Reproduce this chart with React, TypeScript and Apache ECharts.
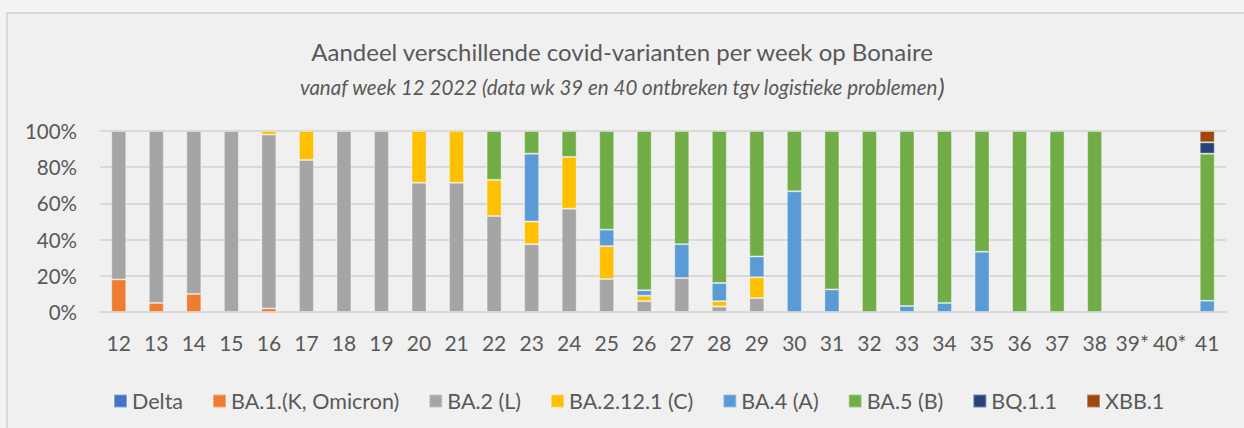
import React, { useEffect, useRef } from "react";
import * as echarts from "echarts";

const weeks = ["12","13","14","15","16","17","18","19","20","21","22","23","24","25","26","27","28","29","30","31","32","33","34","35","36","37","38","39*","40*","41"];
const delta: (number | null)[] = [null,null,null,null,null,null,null,null,null,null,null,null,null,null,null,null,null,null,null,null,null,null,null,null,null,null,null,null,null,null];
const ba1: (number | null)[] = [18,5,10,null,2,null,null,null,null,null,null,null,null,null,null,null,null,null,null,null,null,null,null,null,null,null,null,null,null,null];
const ba2: (number | null)[] = [82,95,90,100,96,84,100,100,71.4,71.4,53,37.5,57.1,18.2,6,18.75,3,7.7,null,null,null,null,null,null,null,null,null,null,null,null];
const ba2121: (number | null)[] = [null,null,null,null,2,16,null,null,28.6,28.6,20,12.5,28.6,18.2,3,null,3,11.5,null,null,null,null,null,null,null,null,null,null,null,null];
const ba4: (number | null)[] = [null,null,null,null,null,null,null,null,null,null,null,37.5,null,9.1,3,18.75,10,11.5,66.7,12.5,null,3.3,5,33.3,null,null,null,null,null,6.25];
const ba5: (number | null)[] = [null,null,null,null,null,null,null,null,null,null,27,12.5,14.3,54.5,88,62.5,84,69.3,33.3,87.5,100,96.7,95,66.7,100,100,100,null,null,81.25];
const bq11: (number | null)[] = [null,null,null,null,null,null,null,null,null,null,null,null,null,null,null,null,null,null,null,null,null,null,null,null,null,null,null,null,null,6.25];
const xbb1: (number | null)[] = [null,null,null,null,null,null,null,null,null,null,null,null,null,null,null,null,null,null,null,null,null,null,null,null,null,null,null,null,null,6.25];

const seriesDefs = [
  { name: "Delta", data: delta, color: "#4472C4" },
  { name: "BA.1.(K, Omicron)", data: ba1, color: "#ED7D31" },
  { name: "BA.2 (L)", data: ba2, color: "#A5A5A5" },
  { name: "BA.2.12.1 (C)", data: ba2121, color: "#FFC000" },
  { name: "BA.4 (A)", data: ba4, color: "#5B9BD5" },
  { name: "BA.5 (B)", data: ba5, color: "#70AD47" },
  { name: "BQ.1.1", data: bq11, color: "#264478" },
  { name: "XBB.1", data: xbb1, color: "#9E480E" },
];

const FONT = "Lato, 'Noto Sans', sans-serif";
const TXT = "#595959";

export default function App() {
  const ref = useRef<HTMLDivElement>(null);
  useEffect(() => {
    if (!ref.current) return;
    const chart = echarts.init(ref.current, null, { renderer: "svg" });
    chart.setOption({
      animation: false,
      backgroundColor: "#f3f3f3",
      graphic: [
        {
          type: "rect",
          z: -10,
          shape: { x: 7, y: 13, width: 1300, height: 500 },
          style: { fill: "#f0f0f0", stroke: "#d9d9d9", lineWidth: 2 },
          silent: true,
        },
      ],
      title: [
        {
          text: "Aandeel verschillende covid-varianten per week op Bonaire",
          left: "center",
          top: 34,
          textStyle: { fontFamily: FONT, fontSize: 24, fontWeight: "normal", color: TXT },
        },
        {
          text: "{a|vanaf week 12 2022 (data wk 39 en 40 ontbreken tgv logistieke problemen}{b|)}",
          left: "center",
          top: 69,
          textStyle: {
            fontWeight: "normal",
            rich: {
              a: { fontFamily: FONT, fontSize: 20.5, fontStyle: "italic", fontWeight: "normal", color: TXT },
              b: { fontFamily: FONT, fontSize: 26, fontStyle: "italic", fontWeight: "normal", color: TXT },
            },
          },
        },
      ],
      legend: {
        left: 108,
        top: 385,
        itemWidth: 13,
        itemHeight: 13,
        itemGap: 29,
        icon: "rect",
        textStyle: { fontFamily: FONT, fontSize: 21.5, color: TXT },
        data: seriesDefs.map((s) => s.name),
      },
      grid: { left: 100, right: 18, top: 131, bottom: 116, containLabel: false },
      xAxis: {
        type: "category",
        data: weeks,
        axisLine: { lineStyle: { color: "#d9d9d9", width: 2 } },
        axisTick: { show: false },
        axisLabel: { fontFamily: FONT, fontSize: 21, color: TXT, margin: 20, interval: 0 },
      },
      yAxis: {
        type: "value",
        min: 0,
        max: 100,
        interval: 20,
        axisLabel: { fontFamily: FONT, fontSize: 20.5, color: TXT, margin: 23, formatter: "{value}%" },
        axisLine: { show: false },
        axisTick: { show: false },
        splitLine: { lineStyle: { color: "#d9d9d9", width: 2 } },
      },
      series: seriesDefs.map((s) => ({
        name: s.name,
        type: "bar",
        stack: "total",
        data: s.data,
        barWidth: 15,
        itemStyle: { color: s.color, borderColor: "rgba(255,255,255,0.35)", borderWidth: 1 },
      })),
    });
    return () => chart.dispose();
  }, []);
  return (
    <div
      ref={ref}
      style={{ position: "absolute", left: 0, top: 0, width: 1244, height: 428 }}
    />
  );
}
